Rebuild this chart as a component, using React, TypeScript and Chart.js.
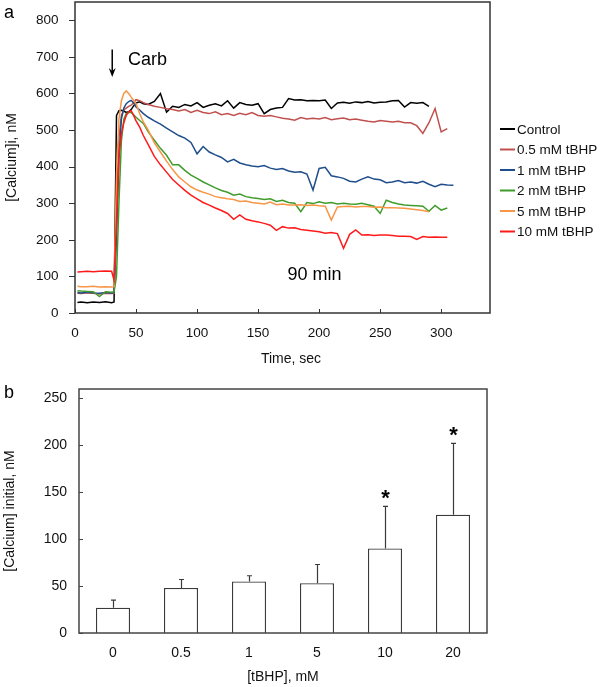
import React, { useEffect, useRef } from 'react';
import { Chart, registerables } from 'chart.js';

Chart.register(...registerables);

const FONT = "'Liberation Sans', Arial, Helvetica, sans-serif";

// ---------- Panel a: time course ----------
const TIME = [
  2, 5, 10, 15, 20, 25, 30,
  32, 34, 36, 38, 40, 42, 44, 46, 48, 50,
  53, 56,
  60, 65, 70, 75, 80, 85, 90, 95, 100,
  105, 110, 115, 120, 125, 130, 135, 140, 145, 150,
  155, 160, 165, 170, 175, 180, 185, 190, 195, 200,
  205, 210, 215, 220, 225, 230, 235, 240, 245, 250,
  255, 260, 265, 270, 275, 280, 285, 290, 295, 300,
  305, 310,
];

const CONTROL = [
  29, 30, 28, 30, 29, 31, 28,
  30, 540, 553, 554, 552, 548, 550, 556, 566, 574,
  577, 572,
  570, 578, 600, 549, 565, 562, 570, 566, 575,
  562, 568, 572, 566, 580, 560, 575, 570, 568, 572,
  545, 556, 560, 562, 586, 582, 583, 580, 581, 580,
  582, 559, 574, 576, 573, 577, 575, 578, 574, 576,
  577, 580, 581, 563, 575, 573, 575, 565, null, null,
  null, null,
];

const TBHP_05 = [
  54, 53, 55, 54, 52, 54, 53,
  54, 300, 480, 540, 555, 560, 565, 568, 575, 583,
  580, 575,
  570, 565, 562, 558, 556, 552, 556, 548, 554,
  548, 545, 550, 542, 545, 540, 546, 542, 548, 540,
  538, 540, 536, 532, 530, 527, 534, 530, 532, 530,
  534, 528, 531, 533, 528, 530, 527, 524, 522, 526,
  524, 522, 524, 520, 520, 512, 491, 520, 559, 495,
  504, null,
];

const TBHP_1 = [
  56, 55, 57, 55, 54, 56, 55,
  56, 200, 420, 530, 560, 572, 578, 581, 575, 563,
  555, 545,
  535, 525, 516, 505, 495, 485, 478, 466, 435,
  455, 440, 432, 425, 413, 420, 410, 405, 402, 400,
  403, 396, 392, 395, 388, 385, 386, 380, 336, 395,
  398, 375, 372, 368, 360, 358, 366, 372, 366, 364,
  356, 358, 362, 356, 358, 355, 360, 352, 345, 352,
  350, 349,
];

const TBHP_2 = [
  61, 60, 59, 58, 45, 58, 57,
  58, 100, 300, 470, 530, 545, 548, 548, 542, 535,
  526, 518,
  495, 472, 450, 431, 405, 405, 390, 377, 368,
  358, 350, 342, 335, 330, 322, 325, 318, 315, 313,
  310, 312, 305, 308, 302, 300, 277, 302, 299, 304,
  300, 302, 298, 300, 298, 297, 300, 296, 292, 272,
  308, 302, 298, 295, 294, 293, 292, 278, 294, 281,
  287, null,
];

const TBHP_5 = [
  73, 72, 72, 73, 71, 72, 71,
  72, 380, 530, 580, 600, 607, 600, 590, 582, 572,
  545, 522,
  500, 465, 440, 415, 392, 372, 358, 345, 336,
  330, 325, 318, 315, 312, 310, 305, 306, 302, 300,
  298, 303, 296, 298, 295, 295, 296, 294, 295, 293,
  292, 254, 290, 291, 292, 290, 291, 291, 289, 290,
  288, 288, 287, 286, 284, 282, 280, 277, null, null,
  null, null,
];

const TBHP_10 = [
  112, 113, 114, 113, 114, 115, 114,
  90, 250, 430, 490, 520, 540, 550, 553, 540, 525,
  508, 485,
  460, 428, 405, 385, 365, 350, 335, 322, 312,
  302, 295, 287, 280, 272, 256, 268, 256, 252, 249,
  245, 240, 226, 236, 232, 233, 228, 226, 224, 222,
  218, 220, 217, 177, 215, 227, 213, 214, 212, 213,
  213, 212, 210, 210, 209, 201, 209, 207, 208, 207,
  207, null,
];

const SERIES_LABELS = ['Control', '0.5 mM tBHP', '1 mM tBHP', '2 mM tBHP', '5 mM tBHP', '10 mM tBHP'];
const SERIES_COLORS = ['#000000', '#c0504d', '#1f4e8c', '#3f9c2b', '#f79646', '#ff1a1a'];
const SERIES = [CONTROL, TBHP_05, TBHP_1, TBHP_2, TBHP_5, TBHP_10];

// ---------- Panel b: initial calcium ----------
const DOSES = ['0', '0.5', '1', '5', '10', '20'];
const INITIAL_MEAN = [27, 48, 55, 53, 90, 126];
const INITIAL_SD = [8, 9, 6, 20, 45, 76];
const SIGNIFICANT = [false, false, false, false, true, true];

const tickFont = (size: number) => ({ family: FONT, size });

const decorA = {
  id: 'decorA',
  afterDraw(chart: any) {
    const { ctx, chartArea: ca, scales } = chart;
    const xs = scales.x;
    const ys = scales.y;
    ctx.save();
    // frame
    ctx.strokeStyle = '#333333';
    ctx.lineWidth = 1.5;
    ctx.strokeRect(ca.left, ca.top, ca.right - ca.left, ca.bottom - ca.top);
    // tick marks
    ctx.lineWidth = 1;
    ctx.beginPath();
    ys.ticks.forEach((t: any) => {
      const y = Math.round(ys.getPixelForValue(t.value)) + 0.5;
      ctx.moveTo(ca.left - 6, y);
      ctx.lineTo(ca.left, y);
    });
    xs.ticks.forEach((t: any) => {
      const x = Math.round(xs.getPixelForValue(t.value)) + 0.5;
      ctx.moveTo(x, ca.bottom);
      ctx.lineTo(x, ca.bottom - 4);
    });
    ctx.stroke();

    // Carb arrow
    const ax = xs.getPixelForValue(30.5);
    const ay1 = ys.getPixelForValue(720);
    const ay2 = ys.getPixelForValue(645);
    ctx.strokeStyle = '#000';
    ctx.fillStyle = '#000';
    ctx.lineWidth = 1.5;
    ctx.beginPath();
    ctx.moveTo(ax, ay1);
    ctx.lineTo(ax, ay2 - 4);
    ctx.stroke();
    ctx.beginPath();
    ctx.moveTo(ax - 3.5, ay2 - 9);
    ctx.lineTo(ax, ay2);
    ctx.lineTo(ax + 3.5, ay2 - 9);
    ctx.lineTo(ax, ay2 - 6);
    ctx.closePath();
    ctx.fill();

    ctx.fillStyle = '#000';
    ctx.textAlign = 'left';
    ctx.textBaseline = 'alphabetic';
    ctx.font = `18px ${FONT}`;
    ctx.fillText('Carb', xs.getPixelForValue(43.4), ys.getPixelForValue(677));
    ctx.fillText('90 min', xs.getPixelForValue(174), ys.getPixelForValue(90));

    // panel letter
    ctx.font = `18px ${FONT}`;
    ctx.fillText('a', 4, 18);

    // x-axis title
    ctx.font = `14px ${FONT}`;
    ctx.textAlign = 'center';
    ctx.textBaseline = 'middle';
    ctx.fillStyle = '#111';
    ctx.fillText('Time, sec', 291, 359);

    // legend
    ctx.textAlign = 'left';
    ctx.font = `13.5px ${FONT}`;
    chart.data.datasets.forEach((ds: any, i: number) => {
      const y = 129 + i * 20.5;
      const x0 = ca.right + 10;
      ctx.strokeStyle = ds.borderColor;
      ctx.lineWidth = 2;
      ctx.beginPath();
      ctx.moveTo(x0, y);
      ctx.lineTo(x0 + 15, y);
      ctx.stroke();
      ctx.fillStyle = '#111';
      ctx.fillText(ds.label, x0 + 17, y + 1);
    });
    ctx.restore();
  },
};

const decorB = {
  id: 'decorB',
  afterDraw(chart: any) {
    const { ctx, chartArea: ca, scales } = chart;
    const ys = scales.y;
    ctx.save();
    ctx.strokeStyle = '#444444';
    ctx.lineWidth = 1.5;
    ctx.strokeRect(ca.left, ca.top, ca.right - ca.left, ca.bottom - ca.top);
    ctx.lineWidth = 1;
    ctx.beginPath();
    ys.ticks.forEach((t: any) => {
      const y = Math.round(ys.getPixelForValue(t.value)) + 0.5;
      ctx.moveTo(ca.left, y);
      ctx.lineTo(ca.left + 4, y);
    });
    ctx.stroke();

    // error bars
    const meta = chart.getDatasetMeta(0);
    ctx.strokeStyle = '#3a3a3a';
    ctx.lineWidth = 1.2;
    meta.data.forEach((el: any, i: number) => {
      const x = Math.round(el.x) + 0.5;
      const yTop = ys.getPixelForValue(INITIAL_MEAN[i] + INITIAL_SD[i]);
      ctx.beginPath();
      ctx.moveTo(x, el.y);
      ctx.lineTo(x, yTop);
      ctx.moveTo(x - 2.5, yTop);
      ctx.lineTo(x + 2.5, yTop);
      ctx.stroke();
      if (SIGNIFICANT[i]) {
        ctx.fillStyle = '#000';
        ctx.font = `bold 22px ${FONT}`;
        ctx.textAlign = 'center';
        ctx.textBaseline = 'alphabetic';
        ctx.fillText('*', x, yTop - 1);
      }
    });

    ctx.fillStyle = '#000';
    ctx.font = `18px ${FONT}`;
    ctx.textAlign = 'left';
    ctx.textBaseline = 'alphabetic';
    ctx.fillText('b', 4, 28);
    ctx.restore();
  },
};

export default function App() {
  const refA = useRef<HTMLCanvasElement>(null);
  const refB = useRef<HTMLCanvasElement>(null);

  useEffect(() => {
    const datasets = SERIES.map((s, i) => ({
      label: SERIES_LABELS[i],
      data: TIME.map((t, j) => ({ x: t, y: s[j] })).filter((p) => p.y !== null),
      borderColor: SERIES_COLORS[i],
      backgroundColor: SERIES_COLORS[i],
      borderWidth: 1.5,
      pointRadius: 0,
      tension: 0,
      order: SERIES.length - i,
    }));

    const chartA = new Chart(refA.current as HTMLCanvasElement, {
      type: 'line',
      data: { datasets },
      options: {
        responsive: false,
        animation: false,
        layout: { padding: { left: 0, top: 2, right: 110, bottom: 0 } },
        plugins: { legend: { display: false }, tooltip: { enabled: false } },
        scales: {
          x: {
            type: 'linear',
            min: 0,
            max: 340,
            grid: { display: false },
            border: { display: false },
            ticks: {
              stepSize: 50,
              includeBounds: false,
              padding: 4,
              color: '#111',
              font: tickFont(13.5),
              maxRotation: 0,
              autoSkip: false,
            },
            afterFit: (s: any) => {
              s.height = 57;
              s.paddingLeft = 0;
              s.paddingRight = 0;
            },
          },
          y: {
            min: 0,
            max: 850,
            grid: { display: false },
            border: { display: false },
            ticks: {
              stepSize: 100,
              includeBounds: false,
              padding: 8.5,
              color: '#111',
              font: tickFont(13.5),
            },
            title: {
              display: true,
              text: '[Calcium]i, nM',
              color: '#111',
              font: tickFont(14),
              padding: { top: 4, bottom: 0 },
            },
            afterFit: (s: any) => {
              s.width = 75;
              s.paddingTop = 0;
              s.paddingBottom = 0;
            },
          },
        },
      } as any,
      plugins: [decorA],
    });

    const chartB = new Chart(refB.current as HTMLCanvasElement, {
      type: 'bar',
      data: {
        labels: DOSES,
        datasets: [
          {
            label: '[Calcium] initial',
            data: INITIAL_MEAN,
            backgroundColor: '#ffffff',
            borderColor: '#3a3a3a',
            borderWidth: 1.3,
            barPercentage: 0.5,
            categoryPercentage: 1.0,
          },
        ],
      },
      options: {
        responsive: false,
        animation: false,
        layout: { padding: { left: 0, top: 19, right: 113, bottom: 0 } },
        plugins: { legend: { display: false }, tooltip: { enabled: false } },
        scales: {
          x: {
            grid: { display: false },
            border: { display: false },
            ticks: { padding: 4, color: '#111', font: tickFont(14), maxRotation: 0 },
            title: {
              display: true,
              text: '[tBHP], mM',
              color: '#111',
              font: tickFont(14),
              padding: { top: 0, bottom: 1 },
            },
            afterFit: (s: any) => {
              s.height = 54;
              s.paddingLeft = 0;
              s.paddingRight = 0;
            },
          },
          y: {
            min: 0,
            max: 260,
            grid: { display: false },
            border: { display: false },
            ticks: {
              stepSize: 50,
              includeBounds: false,
              padding: 4,
              color: '#111',
              font: tickFont(14),
            },
            title: {
              display: true,
              text: '[Calcium] initial, nM',
              color: '#111',
              font: tickFont(14),
              padding: { top: 2, bottom: 0 },
            },
            afterFit: (s: any) => {
              s.width = 79;
              s.paddingTop = 0;
              s.paddingBottom = 0;
            },
          },
        },
      } as any,
      plugins: [decorB],
    });

    return () => {
      chartA.destroy();
      chartB.destroy();
    };
  }, []);

  return (
    <div style={{ position: 'absolute', left: 0, top: 0, width: 600, height: 687, background: '#ffffff' }}>
      <canvas
        ref={refA}
        width={600}
        height={370}
        style={{ position: 'absolute', left: 0, top: 0, width: 600, height: 370 }}
      />
      <canvas
        ref={refB}
        width={600}
        height={317}
        style={{ position: 'absolute', left: 0, top: 370, width: 600, height: 317 }}
      />
    </div>
  );
}
